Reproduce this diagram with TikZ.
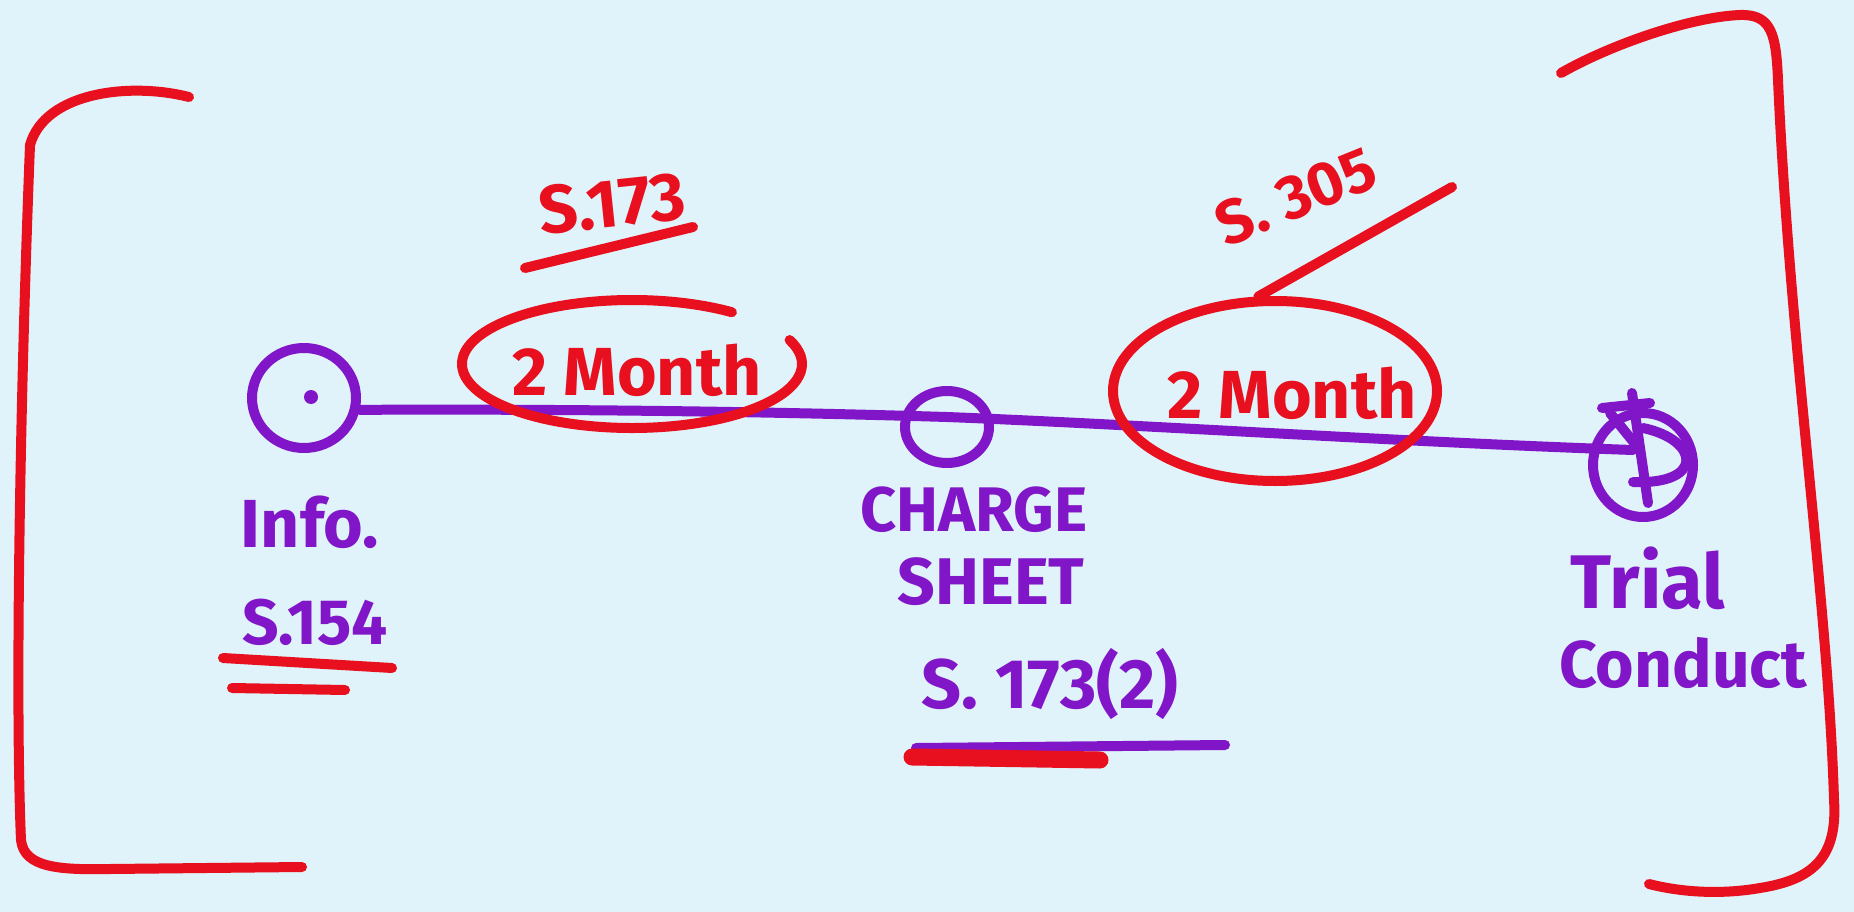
\documentclass[tikz,border=0pt]{standalone}
\usepackage{fontspec}
\setmainfont{Fira Sans}
\usetikzlibrary{shapes.geometric}
\definecolor{bg}{RGB}{224,243,250}
\definecolor{pen}{RGB}{232,16,30}
\definecolor{vio}{RGB}{128,22,200}
\begin{document}
\begin{tikzpicture}[x=1pt,y=-1pt,
 redpen/.style={draw=pen,line width=10pt,line cap=round,line join=round},
 vpen/.style={draw=vio,line width=10pt,line cap=round,line join=round},
 redtxt/.style={text=pen,font=\bfseries\fontsize{68}{68}\selectfont,inner sep=0pt},
 vtxt/.style={text=vio,font=\bfseries\fontsize{68}{68}\selectfont,inner sep=0pt},
 vring/.style={vpen,ellipse,inner sep=0pt}]
\fill[bg] (0,0) rectangle (1854,912);
\useasboundingbox (0,0) rectangle (1854,912);
% brackets
\draw[redpen] (189,97) .. controls (130,82) and (45,92) .. (30,145)
  .. controls (20,400) and (15,700) .. (21,840)
  .. controls (24,868) and (60,870) .. (110,869) -- (302,867);
\draw[redpen] (1561,73) .. controls (1610,45) and (1690,17) .. (1740,15)
  .. controls (1772,14) and (1776,35) .. (1778,80)
  .. controls (1790,350) and (1828,600) .. (1834,800)
  .. controls (1838,860) and (1810,880) .. (1760,888)
  .. controls (1720,895) and (1680,892) .. (1649,884);
% timeline nodes
\node[vring,minimum width=104pt,minimum height=100pt] (info) at (304,398) {};
\fill[vio] (311,397) circle (7);
\node[vring,minimum width=84pt,minimum height=72pt] (charge) at (947,427) {};
\node[vring,minimum width=100pt,minimum height=104pt] (trial) at (1643,465) {};
\coordinate (tend) at (1633,450);
\draw[vpen] (info.-12) .. controls (550,409) and (750,411) .. ([yshift=10pt]charge.center)
  .. controls (1150,425) and (1400,442) .. (tend);
% trial symbol
\draw[vpen] (1632,393) -- (1648,503);
\draw[vpen] (1602,408) -- (1650,403);
\draw[vpen] (1610,413) -- (1640,450);
\draw[vpen] (1643,428) .. controls (1700,440) and (1705,485) .. (1633,482);
% labels under nodes
\node[vtxt] (infot) at (310,522) {Info.};
\node[vtxt,font=\bfseries\fontsize{64}{64}\selectfont] (s154) at (315,622) {S.154};
\draw[redpen] (223,658) -- (392,668);
\draw[redpen] (232,688) -- (345,690);
\node[vtxt,font=\bfseries\fontsize{63}{63}\selectfont] (cs1) at (974,510) {CHARGE};
\node[vtxt,font=\bfseries\fontsize{66}{66}\selectfont] (cs2) at (991,582) {SHEET};
\node[vtxt,font=\bfseries\fontsize{70}{70}\selectfont] (s1732) at (1050,684) {S. 173(2)};
\draw[vpen] (916,748) -- (1225,745);
\draw[draw=pen,line width=17pt,line cap=round] (912,757) -- (1100,760);
\node[vtxt,font=\bfseries\fontsize{76}{76}\selectfont] (tr1) at (1648,578) {Trial};
\node[vtxt,font=\bfseries\fontsize{66}{66}\selectfont] (tr2) at (1683,663) {Conduct};
% period ellipses
\draw[redpen] (632,364) ++(-54:170 and 64) arc[start angle=-54,end angle=-382,x radius=170,y radius=64];
\node[redtxt] (m1) at (637,370) {2 Month};
\node[redtxt,rotate=6] (s173) at (612,203) {S.173};
\draw[redpen] (525,268) -- (693,227);
\node[redpen,ellipse,inner sep=0pt,minimum width=324pt,minimum height=180pt] (e2) at (1275,391) {};
\node[redtxt] (m2) at (1292,393) {2 Month};
\node[redtxt,rotate=22,font=\bfseries\fontsize{62}{62}\selectfont] (s305) at (1296,196) {S. 305};
\draw[redpen] (e2.100) -- (1452,187);
\end{tikzpicture}
\end{document}
